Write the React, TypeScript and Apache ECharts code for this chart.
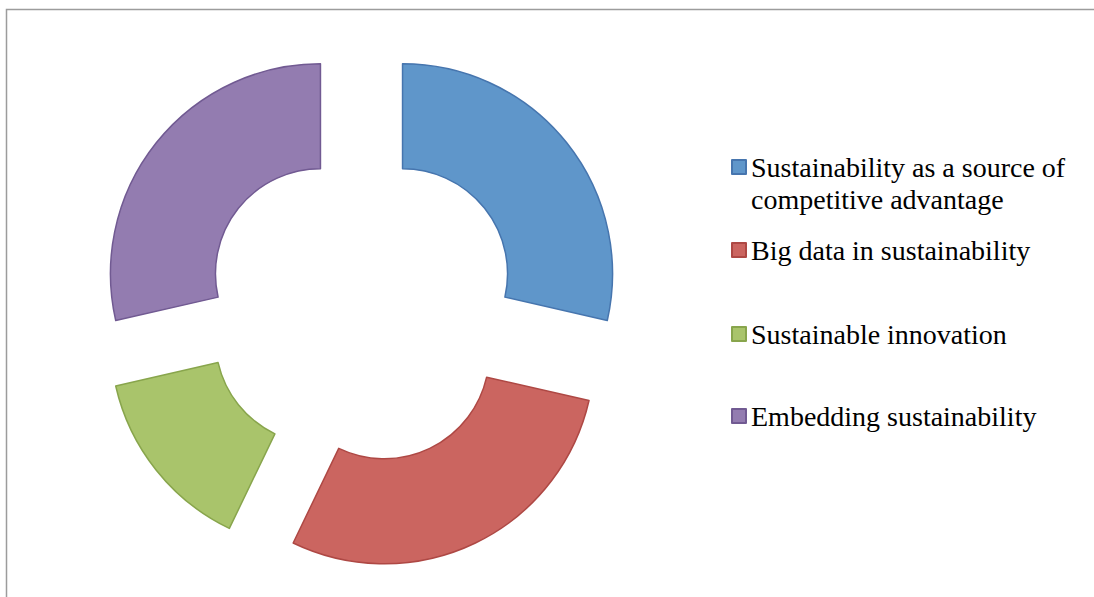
import React, { useEffect, useRef } from "react";
import * as echarts from "echarts";

const categories = [
  "Sustainability as a source of competitive advantage",
  "Big data in sustainability",
  "Sustainable innovation",
  "Embedding sustainability",
];
const values = [2, 2, 1, 2];
const fills = ["#5F96CA", "#CB6560", "#A9C46B", "#937CB0"];
const strokes = ["#4675AE", "#AE4844", "#88A54C", "#715A92"];
const legendTops = [119, 234, 318, 400];

export default function App() {
  const ref = useRef<HTMLDivElement>(null);
  useEffect(() => {
    if (!ref.current) return;
    const chart = echarts.init(ref.current, undefined, { renderer: "svg" });
    const font = "'Liberation Serif', 'Times New Roman', serif";
    chart.setOption({
      animation: false,
      graphic: [
        {
          type: "rect",
          silent: true,
          shape: { x: 6.5, y: 9.5, width: 2000, height: 2000 },
          style: { fill: "none", stroke: "#9c9c9c", lineWidth: 1.5 },
        },
      ],
      legend: categories.map((name, i) => ({
        data: [name],
        orient: "vertical",
        left: 731,
        top: legendTops[i],
        padding: 0,
        itemWidth: 14,
        itemHeight: 14,
        icon: "rect",
        selectedMode: false,
        formatter: (n: string) =>
          n === categories[0] ? "\nSustainability as a source of\ncompetitive advantage" : n,
        textStyle: {
          fontFamily: font,
          fontSize: 28,
          color: "#000",
          lineHeight: 32,
        },
      })),
      series: [
        {
          type: "pie",
          center: [361.5, 306.5],
          radius: [105, 210],
          startAngle: 90,
          clockwise: true,
          silent: true,
          selectedMode: "multiple",
          selectedOffset: 52.5,
          label: { show: false },
          labelLine: { show: false },
          emphasis: { disabled: true },
          data: categories.map((name, i) => ({
            name,
            value: values[i],
            selected: true,
            itemStyle: {
              color: fills[i],
              borderColor: strokes[i],
              borderWidth: 1.5,
            },
          })),
        },
      ],
    });
    return () => chart.dispose();
  }, []);
  return (
    <div
      ref={ref}
      style={{ position: "absolute", left: 0, top: 0, width: 1094, height: 597 }}
    />
  );
}
